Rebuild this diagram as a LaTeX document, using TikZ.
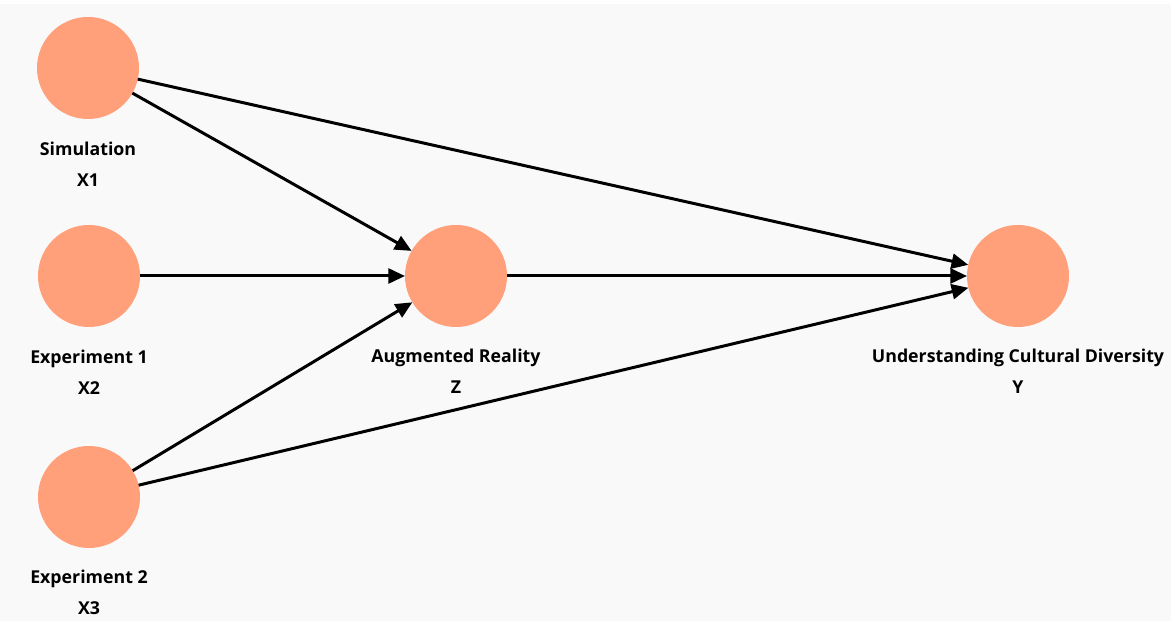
\documentclass[tikz,border=0pt]{standalone}
\usepackage{fontspec}
\setmainfont{Open Sans}
\usetikzlibrary{arrows.meta}
\usetikzlibrary{positioning}
\tikzset{latent/.style = {circle, fill = msalmon, inner sep = 0, outer sep = 0, minimum size = 2.04cm}}
\tikzset{caption/.style = {align = center, font = \bfseries\fontsize{10.1}{17.5}\selectfont, inner sep = 0}}
\tikzset{path/.style = {black, line width = 1.7pt, -{Triangle[length = 9.5pt, width = 8.5pt]}}}
\definecolor{msalmon}{RGB}{255, 160, 122}
\definecolor{mback}{RGB}{249, 249, 249}

\begin{document}
\begin{tikzpicture}
  \useasboundingbox (0, 0) rectangle (23.42, 12.42);
  \fill [mback] (0, 0) rectangle (23.42, 12.34);

  \node [latent] (sim) at (1.76, 11.06) {};
  \node [latent] (expa) at (1.78, 6.90) {};
  \node [latent] (expb) at (1.78, 2.48) {};
  \node [latent] (ar) at (9.12, 6.90) {};
  \node [latent] (ucd) at (20.36, 6.90) {};

  \node [caption] (simlab) at (1.76, 9.13) {Simulation\\X1};
  \node [caption] (expalab) at (1.78, 4.98) {Experiment 1\\X2};
  \node [caption] (expblab) at (1.78, 0.58) {Experiment 2\\X3};
  \node [caption] (arlab) at (9.12, 4.99) {Augmented Reality\\Z};
  \node [caption] (ucdlab) at (20.36, 4.99) {Understanding Cultural Diversity\\Y};

  \foreach \from/\to in {sim/ar, sim/ucd, expa/ar, expb/ar, expb/ucd, ar/ucd} {
    \draw [path] (\from) -- (\to);
  }
\end{tikzpicture}
\end{document}
